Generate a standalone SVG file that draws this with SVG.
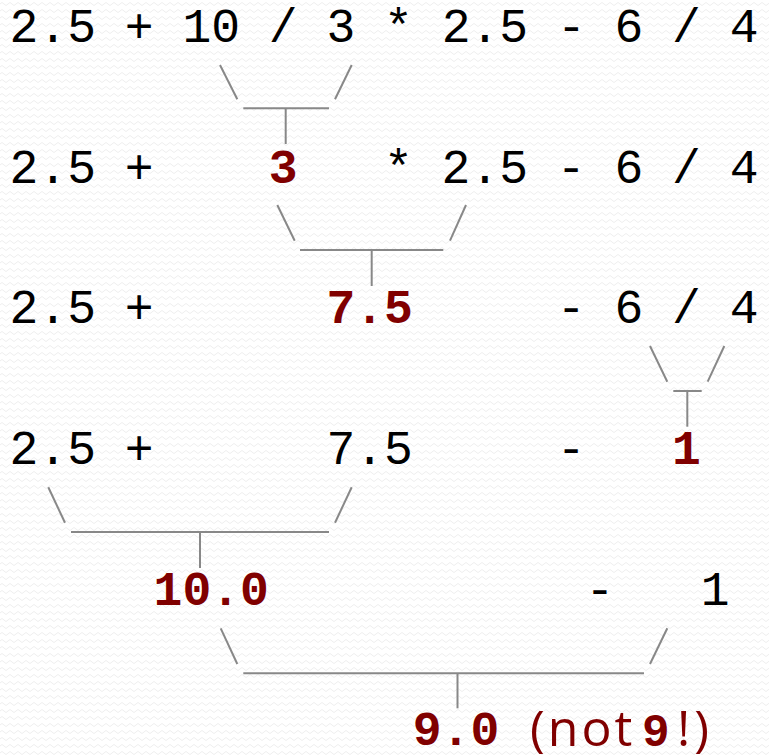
<svg xmlns="http://www.w3.org/2000/svg" width="769" height="756" viewBox="0 0 769 756">
<defs>
<pattern id="bgwave" width="8" height="7" patternUnits="userSpaceOnUse">
<path d="M0 4 Q2 1 4 4 T8 4" fill="none" stroke="#eeeeee" stroke-width="1"/>
</pattern>
<style>
.t{font-family:"Liberation Mono","Courier New",monospace;font-size:48px;fill:#000000;}
.r{font-family:"Liberation Mono","Courier New",monospace;font-size:48px;font-weight:bold;fill:#800000;}
.s{font-family:"Open Sans","Noto Sans",sans-serif;font-size:50px;fill:#800000;}
.m{font-family:"Liberation Mono","Courier New",monospace;font-size:46px;font-weight:bold;}
.c line{stroke:#888888;stroke-width:2;stroke-linecap:butt;}
</style>
</defs>
<rect width="769" height="756" fill="#ffffff"/>
<rect width="769" height="756" fill="url(#bgwave)"/>

<g id="row1">
<text class="t" x="9.6" y="42" xml:space="preserve">2.5 + 10 / 3 * 2.5 - 6 / 4</text>
</g>
<g id="row2">
<text class="t" x="9.6" y="183">2.5 +</text>
<text class="r" x="268.8" y="183">3</text>
<text class="t" x="384" y="183" xml:space="preserve">* 2.5 - 6 / 4</text>
</g>
<g id="row3">
<text class="t" x="9.6" y="323">2.5 +</text>
<text class="r" x="326.4" y="323">7.5</text>
<text class="t" x="556.8" y="323" xml:space="preserve">- 6 / 4</text>
</g>
<g id="row4">
<text class="t" x="9.6" y="463.5">2.5 +</text>
<text class="t" x="326.4" y="463.5">7.5</text>
<text class="t" x="556.8" y="463.5">-</text>
<text class="r" x="672" y="463.5">1</text>
</g>
<g id="row5">
<text class="r" x="153.6" y="605">10.0</text>
<text class="t" x="585.6" y="605">-</text>
<text class="t" x="700.8" y="605">1</text>
</g>
<g id="row6">
<text class="r" x="412.8" y="745">9.0</text>
<text class="s" x="530" y="745.5" xml:space="preserve"><tspan letter-spacing="3">(not</tspan><tspan class="m" x="642">9</tspan><tspan x="677" letter-spacing="4">!)</tspan></text>
</g>

<g id="connectors" class="c">
<line x1="220" y1="65" x2="237.3" y2="99.3"/>
<line x1="351.7" y1="65" x2="335" y2="99.3"/>
<line x1="243.3" y1="108.3" x2="329" y2="108.3"/>
<line x1="285.7" y1="108.3" x2="285.7" y2="144"/>

<line x1="277.3" y1="205" x2="294.7" y2="240.7"/>
<line x1="466" y1="205" x2="450" y2="240.7"/>
<line x1="300" y1="250" x2="443.3" y2="250"/>
<line x1="371.7" y1="250" x2="371.7" y2="286"/>

<line x1="650" y1="346" x2="667.3" y2="381.7"/>
<line x1="724.3" y1="346" x2="707.7" y2="381.7"/>
<line x1="673.3" y1="391" x2="701.7" y2="391"/>
<line x1="687.3" y1="391" x2="687.3" y2="426.7"/>

<line x1="48.3" y1="487.3" x2="65" y2="522.7"/>
<line x1="351.7" y1="487.3" x2="335" y2="522.7"/>
<line x1="71" y1="532" x2="329" y2="532"/>
<line x1="200" y1="532" x2="200" y2="568"/>

<line x1="220.7" y1="628.3" x2="237.3" y2="664"/>
<line x1="667.3" y1="628.3" x2="650" y2="664"/>
<line x1="243.3" y1="673.3" x2="644" y2="673.3"/>
<line x1="457.5" y1="673.3" x2="457.5" y2="708.3"/>
</g>
</svg>
